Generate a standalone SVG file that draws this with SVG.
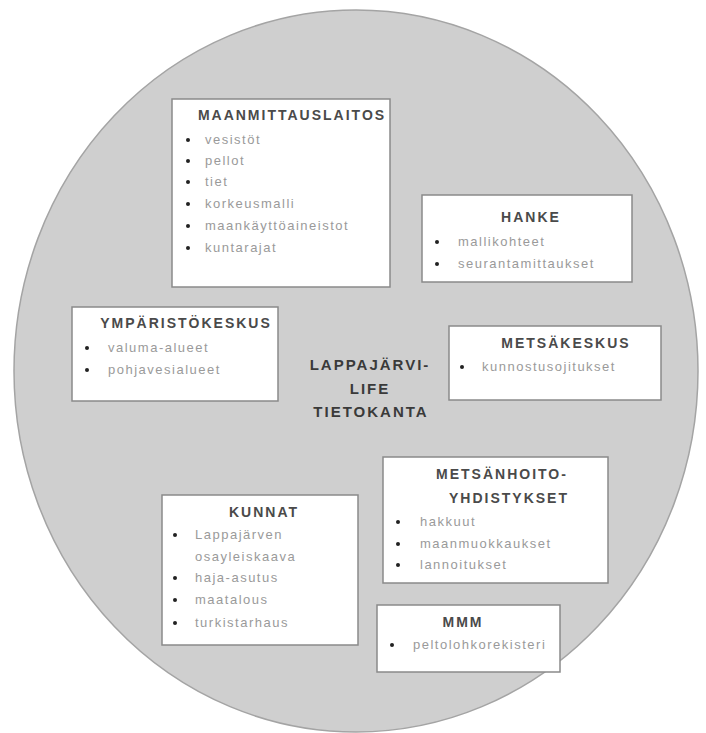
<svg xmlns="http://www.w3.org/2000/svg" width="706" height="733" viewBox="0 0 706 733">
<style>
.bg{fill:#ffffff}
.circle{fill:#cfcfcf;stroke:#a4a4a4;stroke-width:1.5}
.box{fill:#ffffff;stroke:#8a8a8a;stroke-width:1.5}
.title{font-family:"Liberation Sans",Arial,sans-serif;font-weight:bold;font-size:14px;fill:#4a4a4a;letter-spacing:2px;text-anchor:middle}
.item{font-family:"Liberation Sans",Arial,sans-serif;font-size:13px;fill:#9a9a9a;letter-spacing:1.5px}
.center{font-family:"Liberation Sans",Arial,sans-serif;font-weight:bold;font-size:15px;fill:#3a3a3a;letter-spacing:2px;text-anchor:middle}
.dot{fill:#222222}
</style>
<rect class="bg" x="0" y="0" width="706" height="733"/>
<ellipse class="circle" cx="356" cy="371" rx="342" ry="361"/>
<g id="connectors"/>
<g id="center">
<text class="center" x="370" y="370">LAPPAJÄRVI-</text>
<text class="center" x="370" y="394">LIFE</text>
<text class="center" x="371" y="417">TIETOKANTA</text>
</g>
<g id="maanmittauslaitos">
<rect class="box" x="172" y="99" width="218" height="188"/>
<text class="title" x="292" y="120">MAANMITTAUSLAITOS</text>
<circle class="dot" cx="188" cy="140" r="2"/><text class="item" x="205" y="144">vesistöt</text>
<circle class="dot" cx="188" cy="161" r="2"/><text class="item" x="205" y="165">pellot</text>
<circle class="dot" cx="188" cy="182" r="2"/><text class="item" x="205" y="186">tiet</text>
<circle class="dot" cx="188" cy="204" r="2"/><text class="item" x="205" y="208">korkeusmalli</text>
<circle class="dot" cx="188" cy="226" r="2"/><text class="item" x="205" y="230">maankäyttöaineistot</text>
<circle class="dot" cx="188" cy="248" r="2"/><text class="item" x="205" y="252">kuntarajat</text>
</g>
<g id="hanke">
<rect class="box" x="422" y="195" width="210" height="87"/>
<text class="title" x="531" y="222">HANKE</text>
<circle class="dot" cx="437" cy="242" r="2"/><text class="item" x="458" y="246">mallikohteet</text>
<circle class="dot" cx="437" cy="264" r="2"/><text class="item" x="458" y="268">seurantamittaukset</text>
</g>
<g id="ymparistokeskus">
<rect class="box" x="72" y="307" width="206" height="94"/>
<text class="title" x="186" y="328">YMPÄRISTÖKESKUS</text>
<circle class="dot" cx="87" cy="348" r="2"/><text class="item" x="108" y="352">valuma-alueet</text>
<circle class="dot" cx="87" cy="370" r="2"/><text class="item" x="108" y="374">pohjavesialueet</text>
</g>
<g id="metsakeskus">
<rect class="box" x="449" y="326" width="212" height="74"/>
<text class="title" x="566" y="348">METSÄKESKUS</text>
<circle class="dot" cx="462" cy="367" r="2"/><text class="item" x="482" y="371">kunnostusojitukset</text>
</g>
<g id="metsanhoitoyhdistykset">
<rect class="box" x="383" y="457" width="225" height="126"/>
<text class="title" x="502" y="479">METSÄNHOITO-</text>
<text class="title" x="509" y="503">YHDISTYKSET</text>
<circle class="dot" cx="398" cy="522" r="2"/><text class="item" x="420" y="526">hakkuut</text>
<circle class="dot" cx="398" cy="544" r="2"/><text class="item" x="420" y="548">maanmuokkaukset</text>
<circle class="dot" cx="398" cy="565" r="2"/><text class="item" x="420" y="569">lannoitukset</text>
</g>
<g id="kunnat">
<rect class="box" x="162" y="495" width="196" height="150"/>
<text class="title" x="264" y="517">KUNNAT</text>
<circle class="dot" cx="175" cy="535" r="2"/><text class="item" x="195" y="539">Lappajärven</text>
<text class="item" x="195" y="561">osayleiskaava</text>
<circle class="dot" cx="175" cy="578" r="2"/><text class="item" x="195" y="582">haja-asutus</text>
<circle class="dot" cx="175" cy="600" r="2"/><text class="item" x="195" y="604">maatalous</text>
<circle class="dot" cx="175" cy="623" r="2"/><text class="item" x="195" y="627">turkistarhaus</text>
</g>
<g id="mmm">
<rect class="box" x="377" y="605" width="183" height="67"/>
<text class="title" x="463" y="627">MMM</text>
<circle class="dot" cx="392" cy="645" r="2"/><text class="item" x="413" y="649">peltolohkorekisteri</text>
</g>
</svg>
